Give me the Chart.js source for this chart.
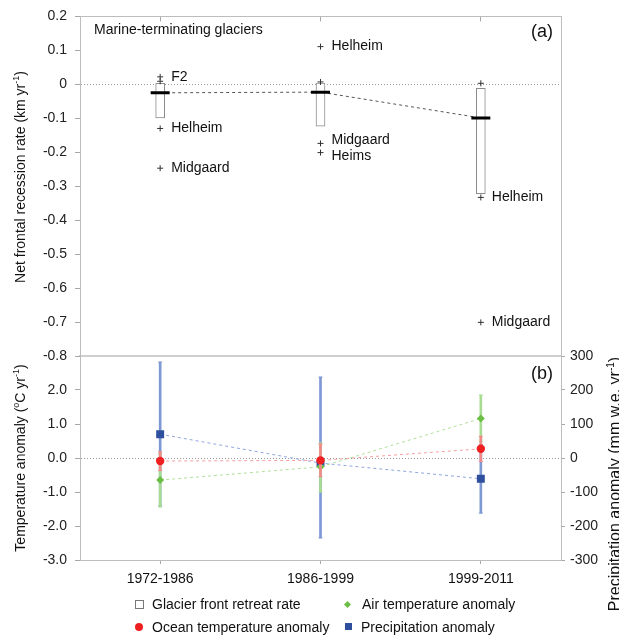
<!DOCTYPE html>
<html>
<head>
<meta charset="utf-8">
<script src="https://cdn.jsdelivr.net/npm/chart.js@4.4.1/dist/chart.umd.min.js"></script>
<style>
  html, body { margin: 0; padding: 0; background: #fff; overflow: hidden; }
  #wrap { position: relative; width: 619px; height: 636px; font-family: "Liberation Sans", Arial, sans-serif; color: #111; }
  canvas { position: absolute; left: 0; }
  #top { top: 0; }
  #bot { top: 336px; }
  .lg { position: absolute; font-size: 14px; line-height: 16px; white-space: nowrap; }
  .mk { position: absolute; box-sizing: border-box; }
</style>
</head>
<body>
<div id="wrap">
  <canvas id="top" width="619" height="380"></canvas>
  <canvas id="bot" width="619" height="300"></canvas>

  <div class="mk" style="left:135px;top:600px;width:9px;height:9px;border:1px solid #777;background:#fff"></div>
  <div class="lg" style="left:152px;top:596px">Glacier front retreat rate</div>
  <div class="mk" style="left:345px;top:602px;width:5px;height:5px;background:#6cbf45;transform:rotate(45deg)"></div>
  <div class="lg" style="left:362px;top:596px">Air temperature anomaly</div>
  <div class="mk" style="left:135px;top:623px;width:8px;height:8px;border-radius:50%;background:#ee2020"></div>
  <div class="lg" style="left:152px;top:619px">Ocean temperature anomaly</div>
  <div class="mk" style="left:345px;top:623px;width:7px;height:7px;background:#2e4f9e"></div>
  <div class="lg" style="left:361px;top:619px">Precipitation anomaly</div>
</div>

<script>
const periods = ['1972-1986', '1986-1999', '1999-2011'];

// (a) net frontal recession rate, km/yr
const boxLow = [-0.099, -0.123, -0.322];
const boxHigh = [0.003, 0.004, -0.012];
const medianRate = [-0.025, -0.023, -0.099];
const outlierPeriod = [0, 0, 0, 0, 1, 1, 1, 1, 2, 2, 2];
const outlierRate = [0.022, 0.009, -0.130, -0.247, 0.111, 0.007, -0.174, -0.201, 0.003, -0.333, -0.701];
const outlierName = ['F2', '', 'Helheim', 'Midgaard', 'Helheim', '', 'Midgaard', 'Heims', '', 'Helheim', 'Midgaard'];
const rateTicks = [0.2, 0.1, 0, -0.1, -0.2, -0.3, -0.4, -0.5, -0.6, -0.7, -0.8];

// (b) anomalies
const oceanTemp = [-0.09, -0.07, 0.27];
const oceanLow = [-0.37, -0.55, -0.10];
const oceanHigh = [0.19, 0.41, 0.64];
const airTemp = [-0.65, -0.26, 1.16];
const airLow = [-1.44, -1.00, 0.48];
const airHigh = [0.14, 0.44, 1.85];
const precip = [70, -15, -61];
const precipLow = [-141, -235, -162];
const precipHigh = [282, 238, 40];
const tempTicks = [3, 2, 1, 0, -1, -2, -3];
const precipTicks = [300, 200, 100, 0, -100, -200, -300];

const FONT = '"Liberation Sans", Arial, sans-serif';
const axisGrey = '#bdbdbd';

function zeroLine(ctx) {
  return ctx.tick && Math.abs(ctx.tick.value) < 1e-9 ? '#9a9a9a' : 'rgba(0,0,0,0)';
}

function useTicks(list) {
  return scale => { scale.ticks = list.map(v => ({ value: v })); };
}

// rotated axis title with a superscript part
function drawTitle(ctx, x, y, parts, size) {
  ctx.save();
  ctx.translate(x, y);
  ctx.rotate(-Math.PI / 2);
  ctx.fillStyle = '#111';
  ctx.textBaseline = 'alphabetic';
  ctx.textAlign = 'left';
  const small = Math.round(size * 0.65);
  let w = 0;
  parts.forEach(p => {
    ctx.font = (p.sup ? small : size) + 'px ' + FONT;
    w += ctx.measureText(p.t).width;
  });
  let cx = -w / 2;
  parts.forEach(p => {
    ctx.font = (p.sup ? small : size) + 'px ' + FONT;
    ctx.fillText(p.t, cx, p.sup ? -size * 0.4 : 0);
    cx += ctx.measureText(p.t).width;
  });
  ctx.restore();
}

// the two close labels at 1986-1999 are pulled apart a little
const labelShift = { 6: -3, 7: 4 };

const topNotes = {
  id: 'topNotes',
  afterDatasetsDraw(chart) {
    const ctx = chart.ctx;
    const meta = chart.getDatasetMeta(2);
    ctx.save();
    ctx.fillStyle = '#111';
    ctx.font = '14px ' + FONT;
    ctx.textBaseline = 'middle';
    outlierName.forEach((name, i) => {
      if (!name) return;
      const pt = meta.data[i];
      ctx.fillText(name, pt.x + 11, pt.y + (labelShift[i] || 0));
    });
    ctx.fillText('Marine-terminating glaciers', 94, 30);
    ctx.font = '18px ' + FONT;
    ctx.textAlign = 'right';
    ctx.fillText('(a)', 553, 32);
    ctx.restore();
    drawTitle(ctx, 25, 177, [
      { t: 'Net frontal recession rate (km yr' }, { t: '-1', sup: true }, { t: ')' }
    ], 14);
  }
};

new Chart(document.getElementById('top'), {
  type: 'bar',
  data: {
    labels: periods,
    datasets: [
      {
        type: 'bar',
        data: periods.map((p, i) => [boxLow[i], boxHigh[i]]),
        backgroundColor: '#ffffff',
        borderColor: '#8c8c8c',
        borderWidth: 1,
        borderSkipped: false,
        barThickness: 9,
        order: 3
      },
      {
        type: 'line',
        data: medianRate,
        borderColor: '#555',
        borderWidth: 1,
        borderDash: [3, 3],
        pointStyle: 'line',
        pointRadius: 9.5,
        pointBorderWidth: 3,
        pointBorderColor: '#000',
        order: 1
      },
      {
        type: 'line',
        data: outlierRate.map((v, i) => ({ x: periods[outlierPeriod[i]], y: v })),
        showLine: false,
        pointStyle: 'cross',
        pointRadius: 3,
        pointBorderWidth: 1,
        pointBorderColor: '#333',
        order: 2
      }
    ]
  },
  options: {
    responsive: false,
    animation: false,
    events: [],
    layout: { autoPadding: false, padding: { left: 0, right: 0, top: 0, bottom: 23 } },
    plugins: { legend: { display: false }, tooltip: { enabled: false } },
    scales: {
      x: {
        type: 'category',
        position: 'top',
        ticks: { display: false },
        grid: { offset: false, drawOnChartArea: false, tickLength: -5, tickColor: '#a8a8a8' },
        border: { color: axisGrey },
        afterFit: s => { s.height = 14; }
      },
      xB: {
        type: 'category',
        position: 'bottom',
        ticks: { display: false },
        grid: { display: false },
        border: { color: '#cfcfcf', width: 2 },
        afterFit: s => { s.height = 1; }
      },
      y: {
        position: 'left',
        min: -0.8,
        max: 0.2,
        afterBuildTicks: useTicks(rateTicks),
        ticks: {
          font: { family: FONT, size: 14 },
          color: '#222',
          padding: 8,
          callback: v => Math.abs(v) < 1e-9 ? '0' : v.toFixed(1)
        },
        grid: { color: zeroLine, tickLength: 5, tickColor: '#a8a8a8' },
        border: { color: axisGrey, dash: [1, 2] },
        afterFit: s => { s.width = 80; }
      },
      yR: {
        position: 'right',
        min: -0.8,
        max: 0.2,
        ticks: { display: false },
        grid: { display: false },
        border: { color: axisGrey },
        afterFit: s => { s.width = 58; }
      }
    }
  },
  plugins: [topNotes]
});

const botNotes = {
  id: 'botNotes',
  afterDatasetsDraw(chart) {
    const ctx = chart.ctx;
    ctx.save();
    ctx.fillStyle = '#111';
    ctx.font = '18px ' + FONT;
    ctx.textBaseline = 'middle';
    ctx.textAlign = 'right';
    ctx.fillText('(b)', 553, 38);
    ctx.restore();
    drawTitle(ctx, 25, 122, [
      { t: 'Temperature anomaly (' }, { t: 'o', sup: true }, { t: 'C yr' }, { t: '-1', sup: true }, { t: ')' }
    ], 14);
    drawTitle(ctx, 620, 148, [
      { t: 'Precipitation anomaly (mm w.e. yr' }, { t: '-1', sup: true }, { t: ')' }
    ], 16);
  }
};

function errBars(lo, hi, color, axis, order) {
  return {
    type: 'bar',
    data: periods.map((p, i) => [lo[i], hi[i]]),
    backgroundColor: color,
    barThickness: 2,
    grouped: false,
    yAxisID: axis,
    order: order
  };
}

function errCaps(lo, hi, color, axis, order) {
  return {
    type: 'line',
    data: periods.flatMap((p, i) => [{ x: p, y: lo[i] }, { x: p, y: hi[i] }]),
    showLine: false,
    pointStyle: 'line',
    pointRadius: 2,
    pointBorderWidth: 1,
    pointBorderColor: color,
    yAxisID: axis,
    order: order
  };
}

function series(values, lineColor, markColor, style, radius, axis, order) {
  return {
    type: 'line',
    data: values,
    borderColor: lineColor,
    borderWidth: 1,
    borderDash: [3, 3],
    pointStyle: style,
    pointRadius: radius,
    pointBackgroundColor: markColor,
    pointBorderColor: markColor,
    pointBorderWidth: 0,
    yAxisID: axis,
    order: order
  };
}

new Chart(document.getElementById('bot'), {
  type: 'bar',
  data: {
    labels: periods,
    datasets: [
      errBars(precipLow, precipHigh, '#7e98d4', 'yP', 12),
      errCaps(precipLow, precipHigh, '#7e98d4', 'yP', 11),
      series(precip, '#8ea6de', '#2e4f9e', 'rect', 5.6, 'yP', 10),
      errBars(airLow, airHigh, '#a9dc93', 'yT', 9),
      errCaps(airLow, airHigh, '#a9dc93', 'yT', 8),
      series(airTemp, '#b0e09a', '#6cbf45', 'rectRot', 4, 'yT', 7),
      errBars(oceanLow, oceanHigh, '#f28a8a', 'yT', 6),
      errCaps(oceanLow, oceanHigh, '#f28a8a', 'yT', 5),
      series(oceanTemp, '#f5a0a0', '#ee2020', 'circle', 4.2, 'yT', 4)
    ]
  },
  options: {
    responsive: false,
    animation: false,
    events: [],
    layout: { autoPadding: false, padding: { left: 0, right: 0, top: 20, bottom: 0 } },
    plugins: { legend: { display: false }, tooltip: { enabled: false } },
    scales: {
      x: {
        type: 'category',
        position: 'bottom',
        ticks: { font: { family: FONT, size: 14 }, color: '#111', padding: 7, maxRotation: 0 },
        grid: { offset: false, drawOnChartArea: false, tickLength: 4, tickColor: '#a8a8a8' },
        border: { color: axisGrey },
        afterFit: s => { s.height = 76; }
      },
      yT: {
        position: 'left',
        min: -3,
        max: 3,
        afterBuildTicks: useTicks(tempTicks),
        ticks: {
          font: { family: FONT, size: 14 },
          color: '#222',
          padding: 8,
          callback: v => v === 3 ? '' : v.toFixed(1)
        },
        grid: { color: zeroLine, tickLength: 5, tickColor: '#a8a8a8' },
        border: { color: axisGrey, dash: [1, 2] },
        afterFit: s => { s.width = 80; }
      },
      yP: {
        position: 'right',
        min: -300,
        max: 300,
        afterBuildTicks: useTicks(precipTicks),
        ticks: { font: { family: FONT, size: 14 }, color: '#222', padding: 5 },
        grid: { drawOnChartArea: false, tickLength: 4, tickColor: '#a8a8a8' },
        border: { color: axisGrey },
        afterFit: s => { s.width = 58; }
      }
    }
  },
  plugins: [botNotes]
});
</script>
</body>
</html>
